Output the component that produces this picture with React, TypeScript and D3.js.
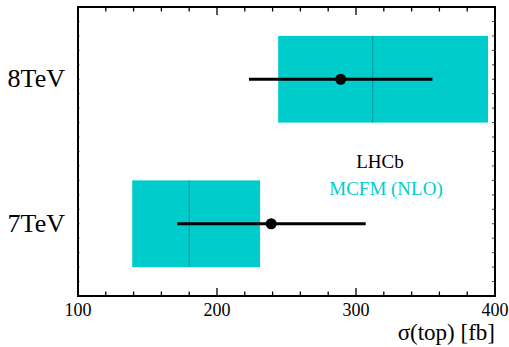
import React from "react";
import * as d3 from "d3";

const categories = ["7TeV", "8TeV"];
const categoryPos = [0.5, 1.5];
const measured = [239, 289];
const measuredLow = [171.5, 223];
const measuredHigh = [307, 355];
const theory = [180, 312];
const theoryLow = [139, 244];
const theoryHigh = [231, 395];
const xTicks = [100, 200, 300, 400];

const W = 509, H = 347;
const L = 78, R = 495, T = 7, B = 296;

export default function App() {
  const x = d3.scaleLinear().domain([100, 400]).range([L, R]);
  const y = d3.scaleLinear().domain([0, 2]).range([B, T]);
  const minor = d3.range(100, 401, 20);
  const yMinor = d3.range(0, 2.001, 0.1);
  const serif = "'Liberation Serif', 'Times New Roman', serif";
  return (
    <svg width={W} height={H} style={{ position: "absolute", left: 0, top: 0 }}>
      <rect x={0} y={0} width={W} height={H} fill="white" />
      {categories.map((c, i) => (
        <g key={c}>
          <rect
            x={x(theoryLow[i])}
            y={y(categoryPos[i] + 0.3)}
            width={x(theoryHigh[i]) - x(theoryLow[i])}
            height={y(categoryPos[i] - 0.3) - y(categoryPos[i] + 0.3)}
            fill="#00CCCC"
          />
          <line
            x1={x(theory[i])} x2={x(theory[i])}
            y1={y(categoryPos[i] + 0.3)} y2={y(categoryPos[i] - 0.3)}
            stroke="#00999a" strokeWidth={1}
          />
          <line
            x1={x(measuredLow[i])} x2={x(measuredHigh[i])}
            y1={y(categoryPos[i])} y2={y(categoryPos[i])}
            stroke="black" strokeWidth={3}
          />
          <circle cx={x(measured[i])} cy={y(categoryPos[i])} r={5.5} fill="black" />
          <text x={65} y={y(categoryPos[i]) + 8} textAnchor="end" fontFamily={serif} fontSize={26}>{c}</text>
        </g>
      ))}
      {yMinor.map((v, i) => (
        <g key={"ym" + i}>
          <line x1={L} x2={L + 2} y1={y(v)} y2={y(v)} stroke="#999" strokeWidth={1} />
          <line x1={R} x2={R - 3} y1={y(v)} y2={y(v)} stroke="#444" strokeWidth={1} />
        </g>
      ))}
      {minor.map((v, i) => {
        const major = (v - 100) % 100 === 0;
        const len = major ? 8 : 4.5;
        return (
          <g key={"xm" + i}>
            <line x1={x(v)} x2={x(v)} y1={B} y2={B - len} stroke="black" strokeWidth={1.3} />
            <line x1={x(v)} x2={x(v)} y1={T} y2={T + len} stroke="black" strokeWidth={1.3} />
          </g>
        );
      })}
      <rect x={L} y={T} width={R - L} height={B - T} fill="none" stroke="black" strokeWidth={2} />
      {xTicks.map((v) => (
        <text key={v} x={x(v)} y={316} textAnchor="middle" fontFamily={serif} fontSize={18}>{v}</text>
      ))}
      <text x={R} y={340} textAnchor="end" fontFamily={serif} fontSize={23}>σ(top) [fb]</text>
      <text x={380} y={168} textAnchor="middle" fontFamily={serif} fontSize={19}>LHCb</text>
      <text x={386} y={195} textAnchor="middle" fontFamily={serif} fontSize={19} fill="#00CCCC">MCFM (NLO)</text>
    </svg>
  );
}
